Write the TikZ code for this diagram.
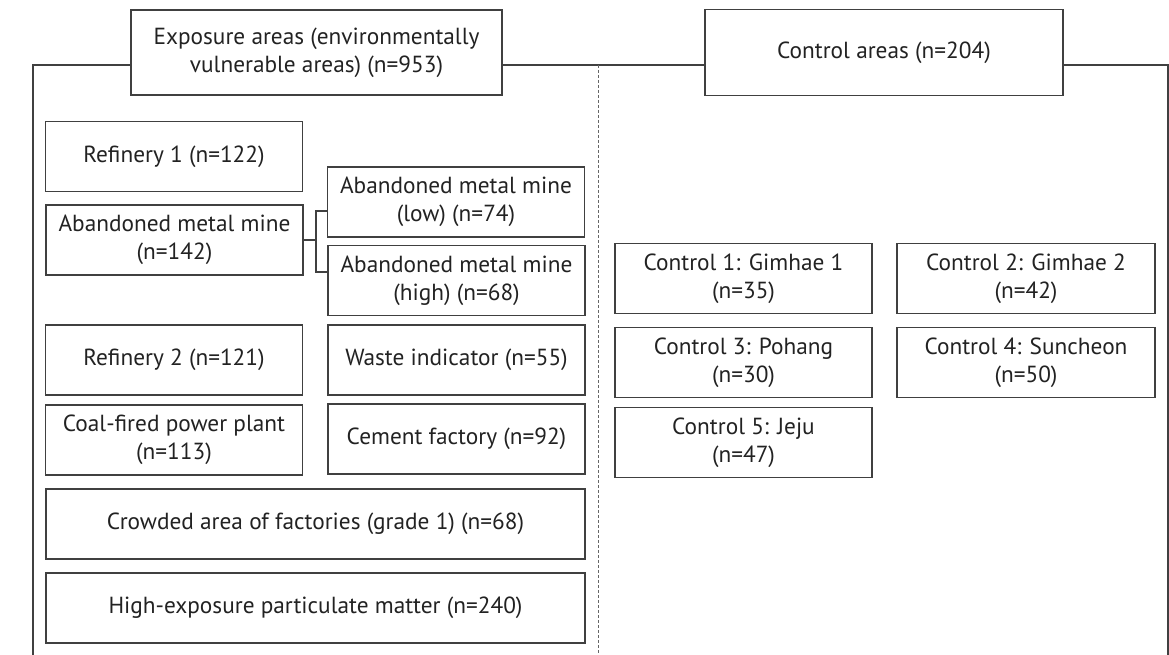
\documentclass[tikz,border=0pt]{standalone}
\usepackage{fontspec}
\setmainfont{PT Sans}
\usepackage{tikz}
\usepackage{xcolor}
\definecolor{linegray}{HTML}{404040}
\definecolor{textgray}{HTML}{222222}

\begin{document}
\begin{tikzpicture}[x=1pt, y=-1pt, node distance=84pt,
    box/.style={rectangle, draw=linegray, line width=1.4pt, inner sep=0pt,
      text=textgray, align=center, minimum height=70pt, minimum width=257pt,
      font=\fontsize{23.3}{28}\selectfont},
    frame/.style={draw=linegray, line width=1.2pt}]
    \useasboundingbox (0,0) rectangle (1169,655);

    \node (expo) [box, minimum width=371pt, minimum height=85pt] at (316.5,52.5)
      {Exposure areas (environmentally\\vulnerable areas) (n=953)};
    \node (ctrl) [box, minimum width=358pt, minimum height=86pt] at (884,52.5)
      {Control areas (n=204)};

    \coordinate (tl) at (33,65);
    \coordinate (bl) at (33,660);
    \coordinate (tr) at (1168,65);
    \coordinate (br) at (1168,660);
    \coordinate (dtop) at (598.5,65);
    \coordinate (dbot) at (598.5,660);

    % exposure side
    \node (ref1) [box] at (174,156.5) {Refinery 1 (n=122)};
    \node (aband) [box] at (174.5,240) {Abandoned metal mine\\(n=142)};
    \node (low) [box] at (456,202) {Abandoned metal mine\\(low) (n=74)};
    \node (high) [box] at (456.5,280.5) {Abandoned metal mine\\(high) (n=68)};
    \node (ref2) [box] at (174,360) {Refinery 2 (n=121)};
    \node (waste) [box] at (456.5,360) {Waste indicator (n=55)};
    \node (coal) [box, below of=ref2, yshift=4pt] {Coal-fired power plant\\(n=113)};
    \node (cement) [box, below of=waste, yshift=5pt] {Cement factory (n=92)};
    \node (crowd) [box, minimum width=539pt] at (315.5,524) {Crowded area of factories (grade 1) (n=68)};
    \node (hiexp) [box, minimum width=539pt, below of=crowd] {High-exposure particulate matter (n=240)};

    % control side
    \node (c1) [box] at (743.5,278.5) {Control 1: Gimhae 1\\(n=35)};
    \node (c2) [box, minimum width=258pt] at (1026,278.5) {Control 2: Gimhae 2\\(n=42)};
    \node (c3) [box, below of=c1] {Control 3: Pohang\\(n=30)};
    \node (c4) [box, minimum width=258pt, below of=c2] {Control 4: Suncheon\\(n=50)};
    \node (c5) [box, below of=c3, yshift=4pt] {Control 5: Jeju\\(n=47)};

    \coordinate (brk) at (316,240);

    \draw [frame] (expo.west |- tl) -- (tl) -- (bl);
    \draw [frame] (expo.east |- tl) -- (ctrl.west |- tl);
    \draw [frame] (ctrl.east |- tr) -- (tr) -- (br);
    \draw [draw=linegray!80, line width=0.7pt, dash pattern=on 3pt off 2pt] (dtop) -- (dbot);

    \draw [frame, line width=1.4pt] (aband.east) -- (brk);
    \draw [frame, line width=1.4pt] ([yshift=-9pt]low.west) -| (brk) |- ([yshift=8.5pt]high.west);
  \end{tikzpicture}
\end{document}
